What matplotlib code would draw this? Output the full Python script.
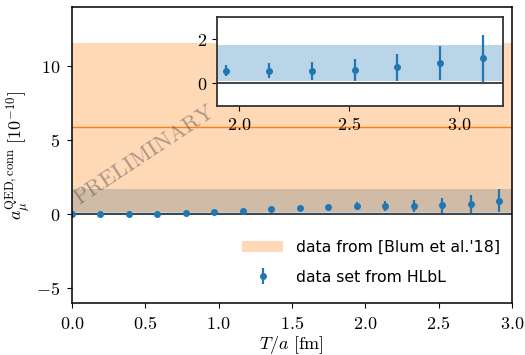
import matplotlib
matplotlib.use("Agg")
import matplotlib.pyplot as plt
import matplotlib.patches as mpatches

plt.rcParams['mathtext.fontset'] = 'cm'
plt.rcParams['font.family'] = ['DejaVu Sans']

# data
T_vals = [0.0, 0.194, 0.389, 0.583, 0.777, 0.971, 1.166, 1.360, 1.554, 1.749,
          1.943, 2.137, 2.332, 2.526, 2.720, 2.914, 3.108]
a_vals = [0.0, 0.0, 0.01, 0.03, 0.08, 0.15, 0.24, 0.33, 0.43, 0.51,
          0.57, 0.55, 0.56, 0.60, 0.71, 0.92, 1.12]
a_errs = [0.0, 0.01, 0.01, 0.02, 0.02, 0.03, 0.04, 0.05, 0.08, 0.15,
          0.27, 0.34, 0.41, 0.49, 0.60, 0.77, 1.06]
blum_center = 5.88
blum_low, blum_high = 0.16, 11.6
hlbl_low, hlbl_high = 0.08, 1.72

xticks = [0.0, 0.5, 1.0, 1.5, 2.0, 2.5, 3.0]
yticks = [-5, 0, 5, 10]
inset_xticks = [2.0, 2.5, 3.0]
inset_yticks = [0, 2]

C0 = '#1f77b4'
C1 = '#ff7f0e'
FS = 13

fig = plt.figure(figsize=(5.25, 3.55), dpi=100)
ax = fig.add_axes([0.137, 0.146, 0.838, 0.834])

ax.axhspan(hlbl_low, hlbl_high, color=C0, alpha=0.3, lw=0)
ax.axhspan(blum_low, blum_high, color=C1, alpha=0.3, lw=0)
ax.axhline(blum_center, color=C1, lw=1.0)
ax.axhline(0, color='#222222', lw=1.2)
ax.errorbar(T_vals, a_vals, yerr=a_errs, fmt='o', color=C0, ms=4, elinewidth=1.6, capsize=0)

ax.set_xlim(0, 3.0)
ax.set_ylim(-6, 14)
ax.set_xticks(xticks)
ax.set_xticklabels([f'${v:.1f}$' for v in xticks], fontsize=FS)
ax.set_yticks(yticks)
ax.set_yticklabels([f'${v}$' for v in yticks], fontsize=FS)
ax.tick_params(pad=5)
ax.set_xlabel(r'$T/a\ [\mathrm{fm}]$', fontsize=FS, labelpad=1)
ax.set_ylabel(r'$a_\mu^{\mathrm{QED,conn}}\ [10^{-10}]$', fontsize=FS, labelpad=2)
for s in ax.spines.values():
    s.set_linewidth(1.1)

ax.text(0.05, 0.65, 'PRELIMINARY', rotation=33.5, fontsize=16, fontname='cmr10',
        color='#555555', alpha=0.5, ha='left', va='baseline', rotation_mode='anchor')

orange_patch = mpatches.Patch(color=C1, alpha=0.3, lw=0, label="data from [Blum et al.'18]")
eb = ax.errorbar([], [], yerr=[], fmt='o', color=C0, ms=4, elinewidth=1.6, capsize=0,
                 label='data set from HLbL')
ax.legend(handles=[orange_patch, eb], loc='lower right', frameon=False, fontsize=11.3,
          bbox_to_anchor=(1.005, 0.015), labelspacing=0.95, handlelength=2.6,
          handletextpad=0.8)

ins = fig.add_axes([0.413, 0.701, 0.545, 0.251])
ins.axhspan(hlbl_low, hlbl_high, color=C0, alpha=0.3, lw=0)
ins.axhline(0, color='#222222', lw=1.2)
ins.errorbar(T_vals, a_vals, yerr=a_errs, fmt='o', color=C0, ms=4, elinewidth=1.6, capsize=0)
ins.set_xlim(1.9, 3.2)
ins.set_ylim(-1.05, 3.0)
ins.set_xticks(inset_xticks)
ins.set_xticklabels([f'${v:.1f}$' for v in inset_xticks], fontsize=FS)
ins.set_yticks(inset_yticks)
ins.set_yticklabels([f'${v}$' for v in inset_yticks], fontsize=FS)
for s in ins.spines.values():
    s.set_linewidth(1.3)
    s.set_color('#333333')

fig.savefig('out.png', dpi=100)
